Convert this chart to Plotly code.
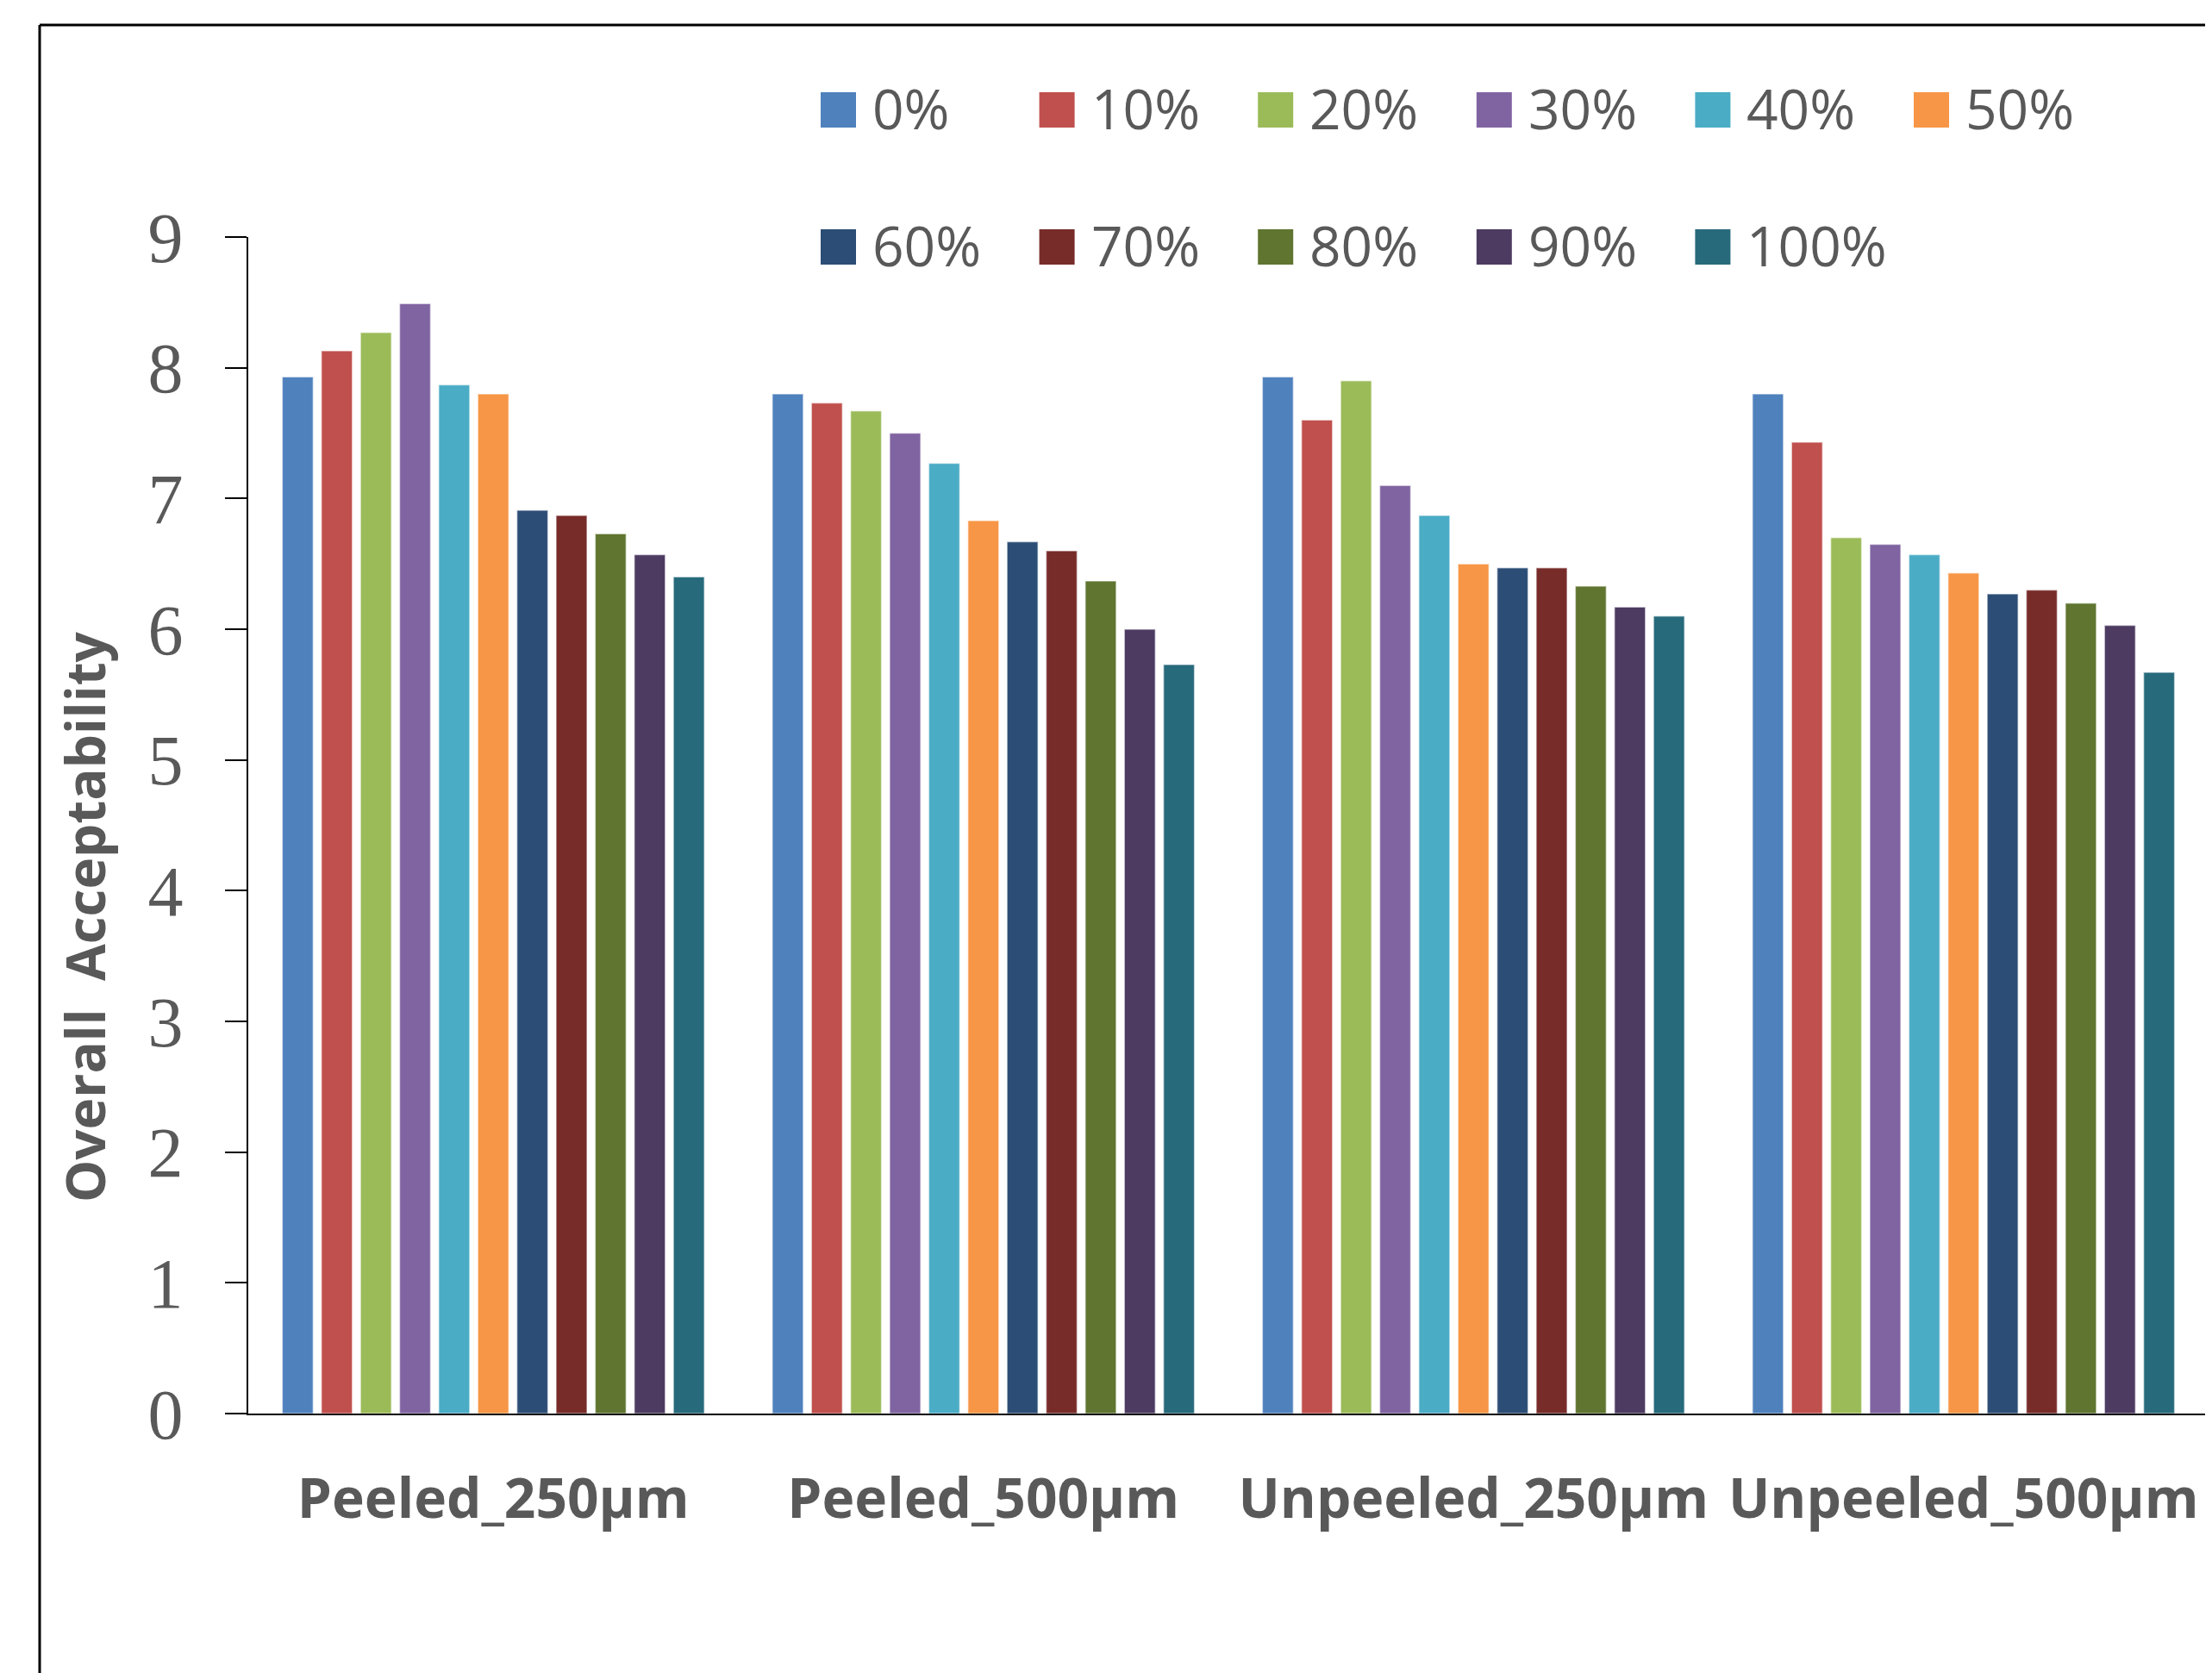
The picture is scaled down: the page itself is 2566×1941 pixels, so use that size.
import plotly.graph_objects as go

categories = ["Peeled_250µm", "Peeled_500µm", "Unpeeled_250µm", "Unpeeled_500µm"]
series_names = ["0%", "10%", "20%", "30%", "40%", "50%", "60%", "70%", "80%", "90%", "100%"]

v_0 = [7.93, 7.80, 7.93, 7.80]
v_10 = [8.13, 7.73, 7.60, 7.43]
v_20 = [8.27, 7.67, 7.90, 6.70]
v_30 = [8.49, 7.50, 7.10, 6.65]
v_40 = [7.87, 7.27, 6.87, 6.57]
v_50 = [7.80, 6.83, 6.50, 6.43]
v_60 = [6.91, 6.67, 6.47, 6.27]
v_70 = [6.87, 6.60, 6.47, 6.30]
v_80 = [6.73, 6.37, 6.33, 6.20]
v_90 = [6.57, 6.00, 6.17, 6.03]
v_100 = [6.40, 5.73, 6.10, 5.67]
series_values = [v_0, v_10, v_20, v_30, v_40, v_50, v_60, v_70, v_80, v_90, v_100]

colors = ["#4F81BD", "#C0504D", "#9BBB59", "#8064A2", "#4BACC6", "#F79646",
          "#2C4D75", "#772C2A", "#5F7530", "#4D3B62", "#276A7C"]

y_tick_vals = [0, 1, 2, 3, 4, 5, 6, 7, 8, 9]
y_title = "Overall\u00a0 Acceptability"

OFF = 8  # page body margin
W, H = 2566 - OFF, 1941 - OFF
L, R, T, B = 288 - OFF, 4, 275 - OFF, 301
PW, PH = W - L - R, H - T - B

def px(x):
    # x given in page pixels
    return (x - OFF - L) / PW

def py(y):
    return (H - B - (y - OFF)) / PH

fig = go.Figure()
for name, vals, col in zip(series_names, series_values, colors):
    fig.add_trace(go.Bar(
        x=categories, y=vals, name=name,
        marker=dict(color=col, line=dict(color="rgba(255,255,255,0.55)", width=1.5)),
        showlegend=False,
    ))

shapes = []
annotations = []
# outer frame (top and left edges)
shapes.append(dict(type="line", xref="paper", yref="paper",
                   x0=px(46), x1=px(2600), y0=py(29), y1=py(29),
                   line=dict(color="black", width=3)))
shapes.append(dict(type="line", xref="paper", yref="paper",
                   x0=px(46), x1=px(46), y0=py(29), y1=py(1960),
                   line=dict(color="black", width=3)))

# manual legend (two rows)
sw = 41
step = 253.6
x_start = 952
row_centers = [127.5, 286.5]
for i, (name, col) in enumerate(zip(series_names, colors)):
    row = 0 if i < 6 else 1
    colidx = i if i < 6 else i - 6
    xl = x_start + step * colidx
    yc = row_centers[row]
    shapes.append(dict(type="rect", xref="paper", yref="paper",
                       x0=px(xl), x1=px(xl + sw), y0=py(yc - sw / 2), y1=py(yc + sw / 2),
                       fillcolor=col, line=dict(width=0)))
    annotations.append(dict(xref="paper", yref="paper", x=px(xl + 58), y=py(yc - 2),
                            xanchor="left", yanchor="middle", showarrow=False,
                            text=name, font=dict(family="Open Sans", size=64, color="#595959")))

annotations.append(dict(xref="paper", yref="paper", x=px(98), y=py(1064),
                        xanchor="center", yanchor="middle", showarrow=False, textangle=-90,
                        text=y_title,
                        font=dict(family="Open Sans", size=62, color="#595959", weight="bold")))

fig.update_layout(
    width=W, height=H,
    margin=dict(l=L, r=R, t=T, b=B, autoexpand=False),
    paper_bgcolor="white", plot_bgcolor="white",
    barmode="group", bargap=0.122, bargroupgap=0.207,
    shapes=shapes, annotations=annotations,
    showlegend=False,
)
fig.update_xaxes(
    type="category", showline=True, linecolor="black", linewidth=2,
    ticks="", showgrid=False, zeroline=False,
    tickfont=dict(family="Open Sans", size=64, color="#595959", weight="bold"),
    ticklabelstandoff=42,
)
fig.update_yaxes(
    range=[0, 9], tickvals=y_tick_vals, showline=True, linecolor="black", linewidth=2,
    ticks="outside", ticklen=25, tickwidth=2, tickcolor="black",
    showgrid=False, zeroline=False,
    tickfont=dict(family="Liberation Serif", size=82, color="#595959"),
    ticklabelstandoff=32,
)

fig.write_html("out.html")
